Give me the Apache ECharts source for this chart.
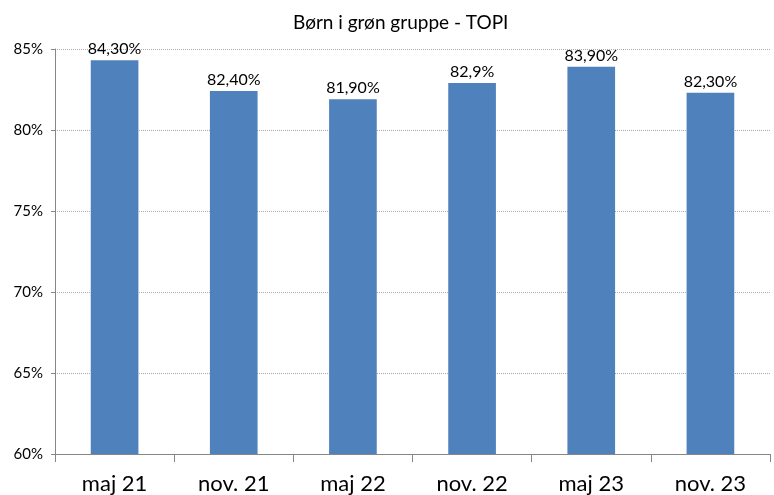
<!DOCTYPE html>
<html lang="da">
<head>
    <meta charset="UTF-8">
    <title>Børn i grøn gruppe - TOPI</title>
    <script src="https://cdn.jsdelivr.net/npm/echarts@6.0.0/dist/echarts.min.js"></script>
    <style>
        body { margin: 0; background: #fff; }
        #chart { width: 774px; height: 495px; }
    </style>
</head>
<body>
    <div id="chart"></div>
    <script>
        var categories = ['maj 21', 'nov. 21', 'maj 22', 'nov. 22', 'maj 23', 'nov. 23'];
        var values = [84.3, 82.4, 81.9, 82.9, 83.9, 82.3];
        var valueLabels = ['84,30%', '82,40%', '81,90%', '82,9%', '83,90%', '82,30%'];

        var chart = echarts.init(document.getElementById('chart'));
        var font = 'Lato, "Open Sans", sans-serif';

        chart.setOption({
            animation: false,
            title: {
                text: 'Børn i grøn gruppe - TOPI',
                left: 288,
                top: 8,
                textStyle: { fontFamily: font, fontSize: 19, fontWeight: 'normal', color: '#000' }
            },
            grid: { left: 55, right: 4, top: 49, bottom: 40, containLabel: false },
            xAxis: {
                type: 'category',
                data: categories,
                axisLine: { lineStyle: { color: '#868686' } },
                axisTick: { show: true, length: 8, lineStyle: { color: '#868686' } },
                axisLabel: { fontFamily: font, fontSize: 22, color: '#000', margin: 19 }
            },
            yAxis: {
                type: 'value',
                min: 60,
                max: 85,
                interval: 5,
                axisLine: { show: true, lineStyle: { color: '#868686' } },
                axisTick: { show: true, length: 4, lineStyle: { color: '#868686' } },
                axisLabel: { fontFamily: font, fontSize: 15, color: '#000', margin: 12, formatter: '{value}%' },
                splitLine: { lineStyle: { color: '#aaa', type: 'dotted' } }
            },
            series: [{
                type: 'bar',
                data: values,
                barWidth: '40%',
                itemStyle: { color: '#4F81BD' },
                label: {
                    show: true,
                    position: 'top',
                    distance: 3,
                    fontFamily: font,
                    fontSize: 16,
                    color: '#000',
                    formatter: function (p) { return valueLabels[p.dataIndex]; }
                }
            }]
        });
    </script>
</body>
</html>
